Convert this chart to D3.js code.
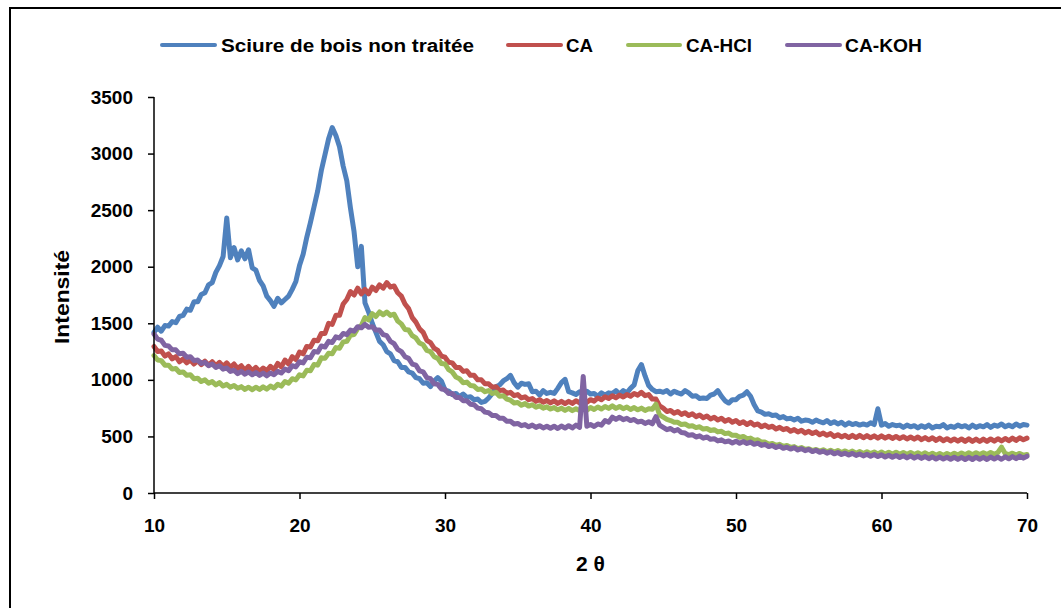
<!DOCTYPE html>
<html>
<head>
<meta charset="utf-8">
<script src="https://cdn.jsdelivr.net/npm/d3@7"></script>
<style>
  html, body { margin: 0; padding: 0; background: #fff; }
  svg { display: block; }
  text { font-family: "Liberation Sans", Arial, sans-serif; font-weight: bold; fill: #000; }
</style>
</head>
<body>
<svg id="chart" width="1061" height="608"></svg>
<script>
// ---- data ----
const seriesNames = ["Sciure de bois non traitée", "CA", "CA-HCl", "CA-KOH"];
const xTicks = [10, 20, 30, 40, 50, 60, 70];
const yTicks = [0, 500, 1000, 1500, 2000, 2500, 3000, 3500];
// 2θ sampling grid: 10° to 70° every 0.25°
const twoTheta = d3.range(0, 241).map(i => 10 + i * 0.25);

const sciure = [
  1420,1465,1430,1480, 1475,1515,1505,1560, 1570,1625,1615,1690, 1690,1755,1770,1840,
  1860,1950,2010,2090, 2430,2080,2170,2060, 2140,2070,2150,1990, 1970,1880,1830,1740,
  1700,1650,1720,1680, 1710,1740,1800,1870, 2010,2110,2260,2390, 2530,2670,2850,2990,
  3130,3230,3160,3060, 2890,2760,2520,2310, 2000,2180,1680,1600, 1500,1420,1340,1310,
  1250,1230,1170,1160, 1110,1110,1070,1060, 1020,1010,970,975, 940,990,1020,990,
  910,900,870,880, 850,875,845,850, 825,830,800,810, 840,880,940,955,
  990,1010,1040,975, 935,970,960,965, 895,900,865,905, 880,890,880,925,
  975,1005,895,885, 870,895,890,900, 875,880,855,885, 865,885,880,905,
  875,905,885,925, 955,1080,1135,1035, 950,915,895,900, 890,905,875,900,
  885,875,905,885, 855,860,835,840, 835,865,875,905, 855,815,795,825,
  825,855,865,895, 855,780,725,715, 695,700,685,690, 665,675,655,660,
  645,660,635,645, 640,625,645,630, 620,640,615,630, 610,625,600,620,
  605,615,600,610, 600,620,605,745, 600,615,590,605, 595,600,580,600,
  585,595,575,595, 580,600,575,590, 585,605,575,590, 580,600,585,595,
  575,600,580,595, 585,605,580,600, 590,610,585,600, 585,610,590,605,
  600
];
const ca = [
  1295,1250,1255,1210, 1230,1185,1205,1160, 1185,1150,1175,1140, 1170,1135,1165,1130,
  1160,1125,1155,1120, 1150,1110,1140,1100, 1125,1085,1120,1080, 1110,1075,1105,1080,
  1120,1090,1145,1115, 1175,1140,1205,1180, 1245,1230,1295,1290, 1350,1345,1410,1410,
  1500,1490,1570,1570, 1670,1710,1780,1750, 1810,1760,1800,1760, 1820,1790,1840,1810,
  1860,1820,1830,1770, 1740,1670,1630,1550, 1510,1450,1420,1350, 1330,1280,1260,1210,
  1200,1155,1150,1110, 1110,1075,1080,1040, 1040,1000,1000,965, 965,935,940,905,
  910,880,890,860, 870,840,850,825, 835,810,825,802, 818,796,815,792,
  810,790,810,792, 815,798,820,802, 825,812,840,825, 850,835,860,842,
  865,848,870,855, 880,865,890,860, 870,830,830,770, 750,720,730,705,
  720,695,710,685, 700,675,690,665, 680,655,670,645, 660,635,650,625,
  640,615,630,605, 625,600,610,585, 600,580,590,565, 580,560,570,545,
  560,540,555,530, 545,525,540,515, 530,510,525,500, 515,495,510,490,
  510,490,510,488, 508,488,505,485, 505,485,502,482, 500,480,498,478,
  495,476,495,472, 490,470,488,465, 485,462,480,460, 478,458,478,456,
  478,456,476,455, 476,456,478,458, 480,460,482,462, 485,465,488,470,
  485
];
const caHCl = [
  1215,1175,1170,1130, 1130,1095,1100,1065, 1070,1040,1045,1010, 1015,985,1000,970,
  985,955,975,945, 960,935,950,925, 940,915,935,912, 935,915,938,918,
  945,928,960,945, 985,970,1010,1000, 1045,1035,1085,1080, 1135,1130,1195,1190,
  1235,1230,1285,1280, 1335,1340,1395,1400, 1455,1480,1550,1530, 1585,1560,1600,1575,
  1600,1570,1580,1520, 1495,1445,1440,1390, 1370,1325,1310,1260, 1250,1205,1190,1145,
  1140,1090,1070,1025, 1010,975,980,950, 945,915,920,895, 905,880,890,855,
  860,830,820,795, 800,775,790,768, 780,758,770,750, 762,742,755,735,
  750,730,748,728, 745,728,750,732, 755,738,760,742, 765,748,770,748,
  765,745,760,738, 755,735,750,730, 745,740,785,690, 670,650,640,625,
  625,605,610,590, 595,578,585,565, 570,552,560,540, 545,525,530,510,
  510,492,500,480, 485,465,470,450, 450,432,438,420, 430,412,420,402,
  410,392,402,385, 392,375,385,370, 382,365,378,362, 375,358,372,356,
  370,352,366,350, 365,348,362,345, 362,344,360,342, 360,342,358,340,
  358,340,355,338, 355,336,352,334, 350,332,350,334, 352,336,354,338,
  355,338,356,340, 356,340,358,342, 358,405,350,340, 352,336,350,334,
  340
];
const caKOH = [
  1405,1360,1350,1305, 1300,1265,1265,1230, 1235,1200,1205,1170, 1175,1145,1155,1125,
  1140,1110,1125,1095, 1105,1075,1085,1055, 1075,1050,1070,1045, 1065,1040,1060,1035,
  1060,1045,1075,1060, 1095,1080,1125,1115, 1160,1150,1200,1195, 1250,1245,1300,1290,
  1340,1330,1380,1370, 1410,1400,1440,1430, 1470,1460,1490,1465, 1470,1440,1440,1400,
  1390,1340,1320,1270, 1250,1205,1190,1140, 1130,1080,1070,1020, 1010,965,960,920,
  915,880,880,845, 845,815,815,785, 780,750,745,715, 710,685,685,660,
  660,635,635,610, 615,595,605,585, 600,580,595,575, 590,572,590,570,
  592,574,595,575, 600,580,1030,590, 605,588,610,600, 640,625,670,650,
  670,648,660,640, 650,628,635,615, 630,612,675,600, 580,560,570,548,
  560,535,530,510, 515,495,505,485, 495,475,480,460, 470,452,460,442,
  458,440,455,438, 450,430,440,420, 430,410,420,402, 415,395,405,388,
  400,380,392,374, 385,366,378,360, 370,352,365,346, 358,340,352,336,
  350,332,345,328, 342,325,340,322, 337,318,334,316, 332,314,330,310,
  328,308,325,306, 322,303,320,300, 318,300,316,298, 316,297,315,296,
  315,296,316,298, 315,296,318,300, 318,298,320,302, 322,304,326,308,
  325
];
const seriesValues = [sciure, ca, caHCl, caKOH];
const seriesColors = ["#4F81BD", "#C0504D", "#9BBB59", "#8064A2"];

// ---- layout ----
const svg = d3.select("#chart");
const plot = { left: 154, right: 1027, top: 97, bottom: 493 };

const x = d3.scaleLinear().domain([10, 70]).range([plot.left, plot.right]);
const y = d3.scaleLinear().domain([0, 3500]).range([plot.bottom, plot.top]);

// outer frame
svg.append("rect")
  .attr("x", 10).attr("y", 8).attr("width", 1100).attr("height", 700)
  .attr("fill", "none").attr("stroke", "#000").attr("stroke-width", 2);

// series lines
const line = d3.line().x(d => x(d[0])).y(d => y(d[1]));
seriesValues.forEach((vals, si) => {
  const pts = twoTheta.map((t, i) => [t, vals[i]]);
  svg.append("path")
    .datum(pts)
    .attr("d", line)
    .attr("fill", "none")
    .attr("stroke", seriesColors[si])
    .attr("stroke-width", 5)
    .attr("stroke-linejoin", "round")
    .attr("stroke-linecap", "round");
});

// axes
const yAxis = d3.axisLeft(y).tickValues(yTicks).tickSize(6).tickPadding(15).tickFormat(d3.format("d"));
const xAxis = d3.axisBottom(x).tickValues(xTicks).tickSize(6).tickPadding(20).tickFormat(d3.format("d"));

const gy = svg.append("g").attr("transform", `translate(${plot.left},0)`).call(yAxis);
const gx = svg.append("g").attr("transform", `translate(0,${plot.bottom})`).call(xAxis);
[gy, gx].forEach(g => {
  g.select(".domain").attr("stroke", "#000").attr("stroke-width", 1.5);
  g.selectAll(".tick line").attr("stroke", "#000").attr("stroke-width", 1.5);
  g.selectAll(".tick text")
    .style("font-family", '"Liberation Sans", Arial, sans-serif')
    .style("font-weight", "bold")
    .style("font-size", "19px")
    .attr("fill", "#000");
});
gy.select(".domain").attr("d", `M0,${plot.top}V${plot.bottom}`);
gx.select(".domain").attr("d", `M${plot.left},0H${plot.right}`);

// axis titles
svg.append("text")
  .attr("x", (plot.left + plot.right) / 2).attr("y", 571)
  .attr("text-anchor", "middle")
  .style("font-size", "21px")
  .text("2 θ");

svg.append("text")
  .attr("transform", "translate(69,297) rotate(-90)")
  .attr("text-anchor", "middle")
  .attr("textLength", 94).attr("lengthAdjust", "spacingAndGlyphs")
  .style("font-size", "21px")
  .text("Intensité");

// legend
const legendItems = [
  { name: seriesNames[0], color: seriesColors[0], x1: 162, x2: 215, tx: 221, tw: 253 },
  { name: seriesNames[1], color: seriesColors[1], x1: 508, x2: 561, tx: 566, tw: 27 },
  { name: seriesNames[2], color: seriesColors[2], x1: 628, x2: 680, tx: 686, tw: 66 },
  { name: seriesNames[3], color: seriesColors[3], x1: 787, x2: 840, tx: 845, tw: 77 }
];
const lg = svg.append("g");
legendItems.forEach(it => {
  lg.append("line")
    .attr("x1", it.x1).attr("x2", it.x2).attr("y1", 45).attr("y2", 45)
    .attr("stroke", it.color).attr("stroke-width", 4).attr("stroke-linecap", "round");
  lg.append("text")
    .attr("x", it.tx).attr("y", 52)
    .attr("textLength", it.tw).attr("lengthAdjust", "spacingAndGlyphs")
    .style("font-size", "18px")
    .text(it.name);
});
</script>
</body>
</html>
